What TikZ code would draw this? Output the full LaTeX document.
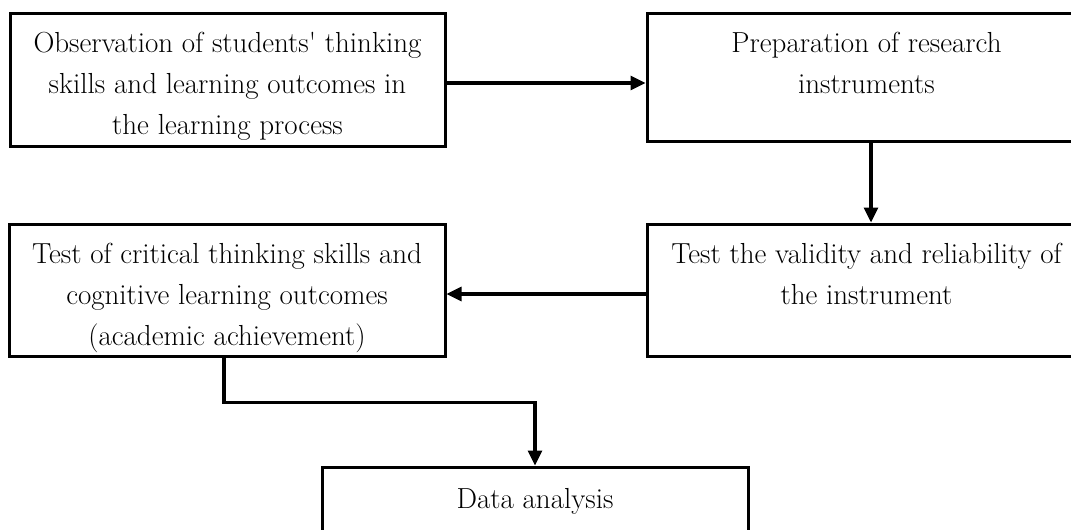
\documentclass[tikz,border=0pt]{standalone}
\usetikzlibrary{arrows.meta}
\begin{document}
\begin{tikzpicture}[x=1pt,y=-1pt,
  box/.style={draw,line width=3pt,rectangle,inner sep=0pt},
  lab/.style={anchor=north,align=center,font=\fontsize{29}{41}\selectfont,inner sep=0pt,yshift=-20pt},
  conn/.style={line width=3.2pt,-{Triangle[length=15pt,width=14pt]}}]
\useasboundingbox (0,0) rectangle (1071,530);
\node[box,minimum width=435pt,minimum height=133pt,
  label={[lab]north:{Observation of students\textquotesingle{} thinking\\skills and learning outcomes in\\the learning process}}] (b1) at (227.5,79.5) {};
\node[box,minimum width=433pt,minimum height=128pt,
  label={[lab,xshift=3pt]north:{Preparation of research\\instruments}}] (b2) at (863.5,77) {};
\node[box,minimum width=433pt,minimum height=132pt,
  label={[lab,xshift=3pt]north:{Test the validity and reliability of\\the instrument}}] (b3) at (863.5,290) {};
\node[box,minimum width=436pt,minimum height=132pt,
  label={[lab]north:{Test of critical thinking skills and\\cognitive learning outcomes\\(academic achievement)}}] (b4) at (227,290) {};
\node[box,minimum width=426pt,minimum height=93pt,
  label={[lab,yshift=-3pt]north:{Data analysis}}] (b5) at (535,513.5) {};
\draw[conn] ([yshift=-3.5pt]b1.east) -- ([yshift=-3.5pt]b1.east -| b2.west);
\draw[conn] ([xshift=7.5pt]b2.south) -- ([xshift=7.5pt]b3.north);
\draw[conn] ([yshift=-4pt]b3.west) -- ([yshift=-4pt]b3.west -| b4.east);
\draw[conn] ([xshift=-3pt]b4.south) -- ++(0,45) -| (b5.north);
\end{tikzpicture}
\end{document}
